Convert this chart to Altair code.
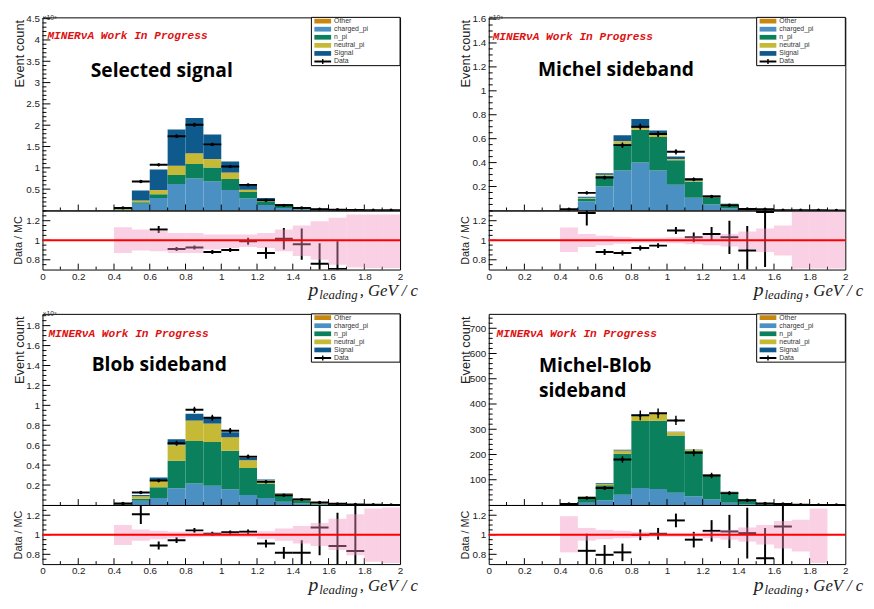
import altair as alt
import pandas as pd

# ---------------- data ----------------
BIN_LO = [0.4, 0.5, 0.6, 0.7, 0.8, 0.9, 1.0, 1.1, 1.2, 1.3, 1.4, 1.5, 1.6, 1.7, 1.8, 1.9]
BIN_HI = [0.5, 0.6, 0.7, 0.8, 0.9, 1.0, 1.1, 1.2, 1.3, 1.4, 1.5, 1.6, 1.7, 1.8, 1.9, 2.0]

SERIES = ["charged_pi", "n_pi", "neutral_pi", "Other", "Signal"]
SERIES_COLORS = ["#4a90c2", "#0b805d", "#c5b935", "#c8870f", "#0f5a8c"]
LEGEND_LABELS = ["Other", "charged_pi", "n_pi", "neutral_pi", "Signal", "Data"]
LEGEND_COLORS = ["#c8870f", "#4a90c2", "#0b805d", "#c5b935", "#0f5a8c", "black"]

X_LABELS = [0, 0.2, 0.4, 0.6, 0.8, 1, 1.2, 1.4, 1.6, 1.8, 2]
X_MAJOR_TICKS = [0.2, 0.4, 0.6, 0.8, 1.0, 1.2, 1.4, 1.6, 1.8]
X_MINOR_TICKS = [0.1, 0.3, 0.5, 0.7, 0.9, 1.1, 1.3, 1.5, 1.7, 1.9]
R_LABELS = [0.8, 1, 1.2]
R_MINOR_TICKS = [0.75, 0.85, 0.9, 0.95, 1.05, 1.1, 1.15, 1.25, 1.3]

# Panel 1: Selected signal (units of 10^3 events)
P1_CHARGED = [0.010, 0.16, 0.29, 0.62, 0.75, 0.68, 0.48, 0.28, 0.13, 0.06, 0.030, 0.015, 0.007, 0.004, 0.002, 0.001]
P1_NPI = [0.010, 0.03, 0.09, 0.21, 0.34, 0.33, 0.26, 0.15, 0.08, 0.05, 0.025, 0.012, 0.006, 0.003, 0.002, 0.001]
P1_NEUTRAL = [0.015, 0.04, 0.09, 0.21, 0.24, 0.19, 0.14, 0.05, 0.02, 0.01, 0.005, 0.003, 0.002, 0.001, 0.001, 0.0]
P1_OTHER = [0.005, 0.005, 0.01, 0.01, 0.01, 0.01, 0.01, 0.005, 0.005, 0.003, 0.002, 0.001, 0.001, 0.0, 0.0, 0.0]
P1_SIGNAL = [0.030, 0.235, 0.48, 0.85, 0.83, 0.57, 0.26, 0.135, 0.055, 0.027, 0.018, 0.009, 0.004, 0.002, 0.001, 0.001]
P1_DATA = [0.06, 0.68, 1.07, 1.74, 2.01, 1.55, 1.03, 0.60, 0.24, 0.12, 0.06, 0.03, 0.015, 0.008, 0.005, 0.003]
P1_DERR = [0.008, 0.025, 0.03, 0.04, 0.045, 0.04, 0.03, 0.025, 0.016, 0.011, 0.008, 0.006, 0.004, 0.003, 0.002, 0.002]
P1_RATIO = [None, None, 1.11, 0.91, 0.925, 0.88, 0.90, 0.99, 0.87, 1.015, 0.96, 0.76, 0.705, None, None, None]
P1_RERR = [None, None, 0.035, 0.02, 0.02, 0.02, 0.02, 0.035, 0.06, 0.11, 0.16, 0.21, 0.285, None, None, None]
P1_BAND_HI = [1.134, 1.11, 1.10, 1.075, 1.075, 1.058, 1.058, 1.06, 1.075, 1.11, 1.15, 1.195, 1.23, 1.264, 1.264, 1.264]
P1_BAND_LO = [0.870, 0.894, 0.887, 0.87, 0.87, 0.904, 0.92, 0.93, 0.92, 0.887, 0.84, 0.80, 0.75, 0.72, 0.716, 0.716]

# Panel 2: Michel sideband (units of 10^3 events)
P2_CHARGED = [0.004, 0.076, 0.20, 0.334, 0.40, 0.334, 0.215, 0.106, 0.05, 0.016, 0.005, 0.002, 0.001, 0.001, 0.0, 0.0]
P2_NPI = [0.004, 0.024, 0.09, 0.226, 0.274, 0.28, 0.205, 0.134, 0.059, 0.034, 0.008, 0.004, 0.002, 0.001, 0.001, 0.0]
P2_NEUTRAL = [0.001, 0.004, 0.006, 0.016, 0.013, 0.016, 0.008, 0.007, 0.004, 0.002, 0.001, 0.001, 0.0, 0.0, 0.0, 0.0]
P2_OTHER = [0.0, 0.002, 0.002, 0.004, 0.004, 0.004, 0.003, 0.002, 0.002, 0.001, 0.0, 0.0, 0.0, 0.0, 0.0, 0.0]
P2_SIGNAL = [0.002, 0.008, 0.012, 0.048, 0.073, 0.034, 0.019, 0.017, 0.010, 0.004, 0.002, 0.001, 0.0, 0.0, 0.0, 0.0]
P2_DATA = [0.010, 0.147, 0.275, 0.546, 0.700, 0.639, 0.490, 0.260, 0.117, 0.043, 0.013, 0.010, 0.002, 0.001, 0.001, 0.0]
P2_DERR = [0.003, 0.012, 0.016, 0.023, 0.026, 0.025, 0.022, 0.016, 0.011, 0.007, 0.004, 0.003, 0.002, 0.001, 0.001, 0.0]
P2_RATIO = [None, 1.28, 0.88, 0.87, 0.92, 0.945, 1.10, 1.03, 1.065, 1.03, 0.895, 1.29, None, None, None, None]
P2_RERR = [None, 0.13, 0.03, 0.025, 0.025, 0.025, 0.035, 0.05, 0.07, 0.17, 0.25, 0.565, None, None, None, None]
P2_BAND_HI = [1.13, 1.065, 1.045, 1.035, 1.025, 1.025, 1.03, 1.04, 1.05, 1.065, 1.09, 1.12, 1.15, 1.29, 1.29, 1.29]
P2_BAND_LO = [0.88, 0.93, 0.95, 0.965, 0.975, 0.975, 0.97, 0.96, 0.95, 0.935, 0.91, 0.88, 0.845, 0.71, 0.71, 0.71]

# Panel 3: Blob sideband (units of 10^3 events)
P3_CHARGED = [0.004, 0.043, 0.07, 0.167, 0.216, 0.193, 0.157, 0.10, 0.07, 0.033, 0.015, 0.006, 0.003, 0.002, 0.001, 0.0]
P3_NPI = [0.005, 0.019, 0.107, 0.276, 0.427, 0.44, 0.387, 0.27, 0.146, 0.059, 0.031, 0.010, 0.006, 0.003, 0.001, 0.001]
P3_NEUTRAL = [0.004, 0.023, 0.066, 0.157, 0.20, 0.18, 0.131, 0.076, 0.027, 0.023, 0.016, 0.005, 0.003, 0.001, 0.001, 0.0]
P3_OTHER = [0.0, 0.002, 0.002, 0.005, 0.005, 0.004, 0.004, 0.003, 0.002, 0.001, 0.001, 0.0, 0.0, 0.0, 0.0, 0.0]
P3_SIGNAL = [0.003, 0.013, 0.03, 0.055, 0.067, 0.055, 0.052, 0.023, 0.011, 0.005, 0.003, 0.002, 0.001, 0.001, 0.0, 0.0]
P3_DATA = [0.015, 0.125, 0.245, 0.62, 0.955, 0.875, 0.745, 0.485, 0.232, 0.098, 0.054, 0.025, 0.0115, 0.006, 0.002, 0.0]
P3_DERR = [0.004, 0.011, 0.016, 0.025, 0.031, 0.03, 0.027, 0.022, 0.015, 0.01, 0.007, 0.005, 0.003, 0.002, 0.001, 0.0]
P3_RATIO = [None, 1.21, 0.89, 0.945, 1.045, 1.01, 1.025, 1.03, 0.91, 0.815, 0.815, 1.075, 0.885, 0.835, None, None]
P3_RERR = [None, 0.1, 0.04, 0.03, 0.025, 0.02, 0.02, 0.025, 0.04, 0.06, 0.13, 0.285, 0.34, 0.5, None, None]
P3_BAND_HI = [1.10, 1.055, 1.04, 1.03, 1.025, 1.02, 1.02, 1.025, 1.035, 1.065, 1.09, 1.12, 1.165, 1.21, 1.27, 1.28]
P3_BAND_LO = [0.895, 0.94, 0.955, 0.965, 0.975, 0.98, 0.98, 0.975, 0.96, 0.94, 0.91, 0.885, 0.845, 0.79, 0.725, 0.71]

# Panel 4: Michel-Blob sideband (events)
P4_CHARGED = [1, 9, 19, 41, 67, 63, 48, 35, 22, 9, 3, 1, 1, 0, 0, 0]
P4_NPI = [2, 22, 59, 162, 266, 271, 227, 179, 93, 40, 16, 6, 3, 1, 0, 0]
P4_NEUTRAL = [0, 3, 5, 12, 19, 25, 13, 4, 5, 2, 2, 1, 0, 0, 0, 0]
P4_OTHER = [0, 0, 1, 1, 2, 1, 1, 1, 1, 0, 0, 0, 0, 0, 0, 0]
P4_SIGNAL = [0, 1, 3, 3, 5, 3, 1, 1, 1, 1, 1, 0, 0, 0, 0, 0]
P4_DATA = [4, 28, 67, 180, 355, 363, 335, 207, 117, 47, 19, 6, 4, 1, 0, 0]
P4_DERR = [2, 5, 8, 13, 19, 19, 18, 14, 11, 7, 4, 2.5, 2, 1, 0, 0]
P4_RATIO = [None, 0.836, 0.795, 0.82, 1.0, 1.01, 1.147, 0.95, 1.04, 1.034, 1.017, 0.76, 1.085, None, None, None]
P4_RERR = [None, 0.175, 0.1, 0.09, 0.055, 0.06, 0.07, 0.08, 0.11, 0.17, 0.26, 0.31, 0.45, None, None, None]
P4_BAND_HI = [1.19, 1.07, 1.05, 1.04, 1.03, 1.02, 1.02, 1.02, 1.035, 1.05, 1.075, 1.10, 1.14, 1.155, 1.27, None]
P4_BAND_LO = [0.82, 0.94, 0.955, 0.965, 0.97, 0.98, 0.98, 0.98, 0.965, 0.95, 0.93, 0.90, 0.86, 0.83, 0.71, None]

PANELS = [
    dict(W=363, HT=196, comps=[P1_CHARGED, P1_NPI, P1_NEUTRAL, P1_OTHER, P1_SIGNAL],
         data=P1_DATA, derr=P1_DERR, ratio=P1_RATIO, rerr=P1_RERR, bhi=P1_BAND_HI, blo=P1_BAND_LO,
         ymax=4.53, ymajor=[0.5, 1, 1.5, 2, 2.5, 3, 3.5, 4, 4.5], yminor_step=0.1, yfmt="~g",
         e3=True, title=["Selected signal"], tx=49, ty=[55], mx=5, my=19),
    dict(W=362, HT=196, comps=[P2_CHARGED, P2_NPI, P2_NEUTRAL, P2_OTHER, P2_SIGNAL],
         data=P2_DATA, derr=P2_DERR, ratio=P2_RATIO, rerr=P2_RERR, bhi=P2_BAND_HI, blo=P2_BAND_LO,
         ymax=1.614, ymajor=[0.2, 0.4, 0.6, 0.8, 1, 1.2, 1.4, 1.6], yminor_step=0.05, yfmt="~g",
         e3=True, title=["Michel sideband"], tx=50, ty=[54], mx=4, my=20),
    dict(W=363, HT=194, comps=[P3_CHARGED, P3_NPI, P3_NEUTRAL, P3_OTHER, P3_SIGNAL],
         data=P3_DATA, derr=P3_DERR, ratio=P3_RATIO, rerr=P3_RERR, bhi=P3_BAND_HI, blo=P3_BAND_LO,
         ymax=1.918, ymajor=[0.2, 0.4, 0.6, 0.8, 1, 1.2, 1.4, 1.6, 1.8], yminor_step=0.05, yfmt="~g",
         e3=True, title=["Blob sideband"], tx=50, ty=[52], mx=6, my=20),
    dict(W=362, HT=194, comps=[P4_CHARGED, P4_NPI, P4_NEUTRAL, P4_OTHER, P4_SIGNAL],
         data=P4_DATA, derr=P4_DERR, ratio=P4_RATIO, rerr=P4_RERR, bhi=P4_BAND_HI, blo=P4_BAND_LO,
         ymax=757, ymajor=[100, 200, 300, 400, 500, 600, 700], yminor_step=20, yfmt="d",
         e3=False, title=["Michel-Blob", "sideband"], tx=51, ty=[53, 78], mx=8, my=20),
]

HR = 60
ONE = pd.DataFrame({"k": [0]})
LABEL_FONT = "Liberation Sans"
LEG_Y = [3.8, 12.0, 20.2, 28.4, 36.6, 44.8]


def txt(x, y, s, **kw):
    return alt.Chart(ONE).mark_text(**kw).encode(
        x=alt.value(x), y=alt.value(y), text=alt.value(s))


def build_panel(p):
    W, HT = p["W"], p["HT"]
    xs = alt.Scale(domain=[0, 2], nice=False, zero=False)
    ys = alt.Scale(domain=[0, p["ymax"]], nice=False, zero=False)
    yaxis = alt.Axis(values=p["ymajor"], format=p["yfmt"], ticks=False, domain=False, grid=False,
                     labelFontSize=10, labelPadding=3, labelFlush=False, labelOverlap=False,
                     title="Event count", titleFontSize=13, titleX=-23, titleY=2,
                     titleAlign="right", titleBaseline="middle", titleAngle=270)

    def X(f):
        return alt.X(f, type="quantitative", scale=xs, axis=None)

    def Y(f):
        return alt.Y(f, type="quantitative", scale=ys, axis=yaxis)

    rows = []
    for i in range(len(BIN_LO)):
        base = 0.0
        for s, vals in zip(SERIES, p["comps"]):
            v = vals[i]
            rows.append(dict(lo=BIN_LO[i], hi=BIN_HI[i], series=s, y0=base, y1=base + v))
            base += v
    df_stack = pd.DataFrame(rows)

    df_data = pd.DataFrame(dict(lo=BIN_LO, hi=BIN_HI, v=p["data"], e=p["derr"]))
    df_data["mid"] = (df_data.lo + df_data.hi) / 2
    df_data["vlo"] = df_data.v - df_data.e
    df_data["vhi"] = df_data.v + df_data.e

    stack = alt.Chart(df_stack).mark_rect(clip=True).encode(
        x=X("lo"), x2=alt.X2("hi"), y=Y("y0"), y2=alt.Y2("y1"),
        color=alt.Color("series:N", scale=alt.Scale(domain=SERIES, range=SERIES_COLORS), legend=None))
    dh = alt.Chart(df_data).mark_rule(color="black", strokeWidth=2, clip=True).encode(
        x=X("lo"), x2=alt.X2("hi"), y=Y("v"))
    dv = alt.Chart(df_data).mark_rule(color="black", strokeWidth=1.5, clip=True).encode(
        x=X("mid"), y=Y("vlo"), y2=alt.Y2("vhi"))
    dp = alt.Chart(df_data).mark_point(filled=True, size=12, color="black", opacity=1, clip=True).encode(
        x=X("mid"), y=Y("v"))

    step = p["yminor_step"]
    n = int(round(p["ymax"] / step))
    minor = [round(k * step, 4) for k in range(1, n + 1)]
    minor = [m for m in minor if all(abs(m - M) > 1e-6 for M in p["ymajor"]) and m <= p["ymax"]]
    ymaj = alt.Chart(pd.DataFrame({"t": p["ymajor"]})).mark_rule(color="black").encode(
        y=Y("t"), x=alt.value(0), x2=alt.value(8))
    ymin = alt.Chart(pd.DataFrame({"t": minor})).mark_rule(color="black").encode(
        y=Y("t"), x=alt.value(0), x2=alt.value(4))
    xmaj = alt.Chart(pd.DataFrame({"t": X_MAJOR_TICKS})).mark_rule(color="black").encode(
        x=X("t"), y=alt.value(HT), y2=alt.value(HT - 6))
    xmin = alt.Chart(pd.DataFrame({"t": X_MINOR_TICKS})).mark_rule(color="black").encode(
        x=X("t"), y=alt.value(HT), y2=alt.value(HT - 3))

    layers = [stack, dh, dv, dp, ymaj, ymin, xmaj, xmin]

    # legend (ROOT style box)
    layers.append(alt.Chart(ONE).mark_rect(fill="white", stroke="black", strokeWidth=1).encode(
        x=alt.value(W - 90), x2=alt.value(W), y=alt.value(0), y2=alt.value(49)))
    for lab, col, ly in zip(LEGEND_LABELS, LEGEND_COLORS, LEG_Y):
        if lab == "Data":
            layers.append(alt.Chart(ONE).mark_rule(color="black", strokeWidth=2).encode(
                x=alt.value(W - 87), x2=alt.value(W - 70), y=alt.value(ly)))
            layers.append(alt.Chart(ONE).mark_rule(color="black", strokeWidth=1.5).encode(
                x=alt.value(W - 78.5), y=alt.value(ly - 2.5), y2=alt.value(ly + 2.5)))
        else:
            layers.append(alt.Chart(ONE).mark_rect(fill=col).encode(
                x=alt.value(W - 87), x2=alt.value(W - 70), y=alt.value(ly - 2.4), y2=alt.value(ly + 2.4)))
        layers.append(txt(W - 67, ly, lab, align="left", baseline="middle", fontSize=7,
                          font=LABEL_FONT, color="#333"))

    # annotations
    layers.append(txt(p["mx"], p["my"], "MINERνA Work In Progress", align="left", baseline="middle",
                      font="Liberation Mono", fontStyle="italic", fontWeight="bold", fontSize=11.3,
                      color="#dd1111"))
    for line, ty in zip(p["title"], p["ty"]):
        layers.append(txt(p["tx"], ty, line, align="left", baseline="middle", font="Open Sans",
                          fontWeight="bold", fontSize=19.5, color="black"))
    if p["e3"]:
        layers.append(txt(0, 0.5, "×10³", align="left", baseline="middle", fontSize=7,
                          font=LABEL_FONT, color="#333"))

    top = alt.layer(*layers).properties(width=W, height=HT)

    # ---------------- ratio panel ----------------
    rs = alt.Scale(domain=[0.7, 1.305], nice=False, zero=False)
    xaxis_r = alt.Axis(values=X_LABELS, format=".1~f", ticks=False, domain=False, grid=False,
                       labelFontSize=10, labelPadding=2, labelFlush=False, labelOverlap=False, title=None)
    yaxis_r = alt.Axis(values=R_LABELS, format=".1~f", ticks=False, domain=False, grid=False,
                       labelFontSize=10, labelPadding=3, labelFlush=False, labelOverlap=False,
                       title="Data / MC", titleFontSize=11, titleX=-24, titleY=HR / 2,
                       titleAlign="center", titleBaseline="middle", titleAngle=270)

    def RX(f):
        return alt.X(f, type="quantitative", scale=xs, axis=xaxis_r)

    def RY(f):
        return alt.Y(f, type="quantitative", scale=rs, axis=yaxis_r)

    rrows = [dict(lo=BIN_LO[i], hi=BIN_HI[i], mid=(BIN_LO[i] + BIN_HI[i]) / 2, r=p["ratio"][i],
                  rlo=p["ratio"][i] - p["rerr"][i], rhi=p["ratio"][i] + p["rerr"][i])
             for i in range(len(BIN_LO)) if p["ratio"][i] is not None]
    df_r = pd.DataFrame(rrows)
    brows = [dict(lo=BIN_LO[i], hi=BIN_HI[i], blo=p["blo"][i], bhi=p["bhi"][i])
             for i in range(len(BIN_LO)) if p["bhi"][i] is not None]
    df_b = pd.DataFrame(brows)

    rh = alt.Chart(df_r).mark_rule(color="black", strokeWidth=2, clip=True).encode(
        x=RX("lo"), x2=alt.X2("hi"), y=RY("r"))
    rv = alt.Chart(df_r).mark_rule(color="black", strokeWidth=2, clip=True).encode(
        x=RX("mid"), y=RY("rlo"), y2=alt.Y2("rhi"))
    band = alt.Chart(df_b).mark_rect(fill="#f48fbf", opacity=0.42, clip=True).encode(
        x=RX("lo"), x2=alt.X2("hi"), y=RY("blo"), y2=alt.Y2("bhi"))
    unity = alt.Chart(pd.DataFrame({"u": [1.0]})).mark_rule(color="#ff0000", strokeWidth=2).encode(
        y=RY("u"), x=alt.value(0), x2=alt.value(W))
    rymaj = alt.Chart(pd.DataFrame({"t": R_LABELS})).mark_rule(color="black").encode(
        y=RY("t"), x=alt.value(0), x2=alt.value(8))
    rymin = alt.Chart(pd.DataFrame({"t": R_MINOR_TICKS})).mark_rule(color="black").encode(
        y=RY("t"), x=alt.value(0), x2=alt.value(4))
    rxmaj = alt.Chart(pd.DataFrame({"t": X_MAJOR_TICKS})).mark_rule(color="black").encode(
        x=RX("t"), y=alt.value(HR), y2=alt.value(HR - 6))
    rxmin = alt.Chart(pd.DataFrame({"t": X_MINOR_TICKS})).mark_rule(color="black").encode(
        x=RX("t"), y=alt.value(HR), y2=alt.value(HR - 3))

    t1 = txt(W - 93, HR + 27, "p", align="left", baseline="alphabetic", font="Liberation Serif",
             fontStyle="italic", fontSize=20, color="#222")
    t2 = txt(W - 82, HR + 30, "leading", align="left", baseline="alphabetic", font="Liberation Serif",
             fontStyle="italic", fontSize=13, color="#222")
    t3 = txt(W - 41, HR + 27, ", GeV / c", align="left", baseline="alphabetic", font="Liberation Serif",
             fontStyle="italic", fontSize=17, color="#222")

    ratio = alt.layer(rymaj, rymin, rxmaj, rxmin, rh, rv, band, unity, t1, t2, t3).properties(
        width=W, height=HR)

    return top, ratio


def spacer(w, h):
    return alt.Chart(ONE).mark_point(opacity=0).encode(
        x=alt.value(0), y=alt.value(0)).properties(
        width=w, height=h, view=alt.ViewBackground(stroke="transparent"))


(t1_, r1_), (t2_, r2_), (t3_, r3_), (t4_, r4_) = [build_panel(p) for p in PANELS]
cells = [t1_, t2_, r1_, r2_, spacer(363, 45), spacer(362, 45), t3_, t4_, r3_, r4_]
chart = alt.concat(*cells, columns=2, spacing={"row": 0, "column": 90}, bounds="flush",
                   align="each").properties(
    padding={"left": 4, "top": 0, "right": 2, "bottom": 2}
).configure_view(stroke="black", strokeWidth=1).configure_axis(
    labelFont=LABEL_FONT, titleFont=LABEL_FONT, labelColor="#222", titleColor="#222",
    titleFontWeight="normal")

chart.save("out.html", embed_options={"renderer": "svg", "actions": False})
